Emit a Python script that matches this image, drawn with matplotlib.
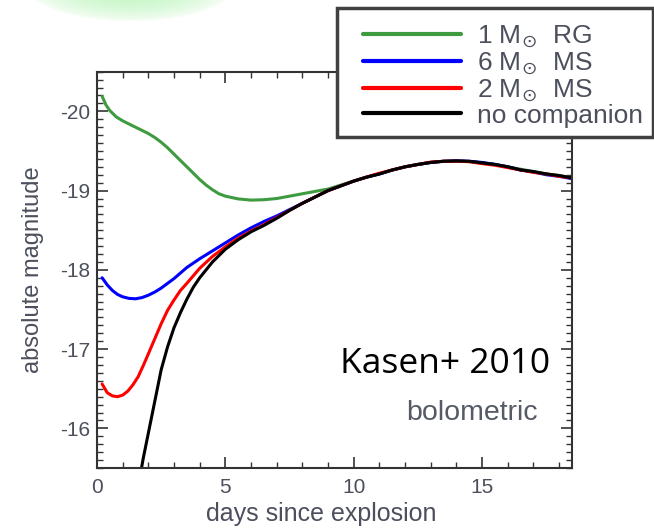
import numpy as np
import matplotlib
matplotlib.use("Agg")
import matplotlib.pyplot as plt
from matplotlib.patches import Rectangle
from matplotlib.ticker import MultipleLocator

plt.rcParams["font.family"] = ["Liberation Sans", "DejaVu Sans"]
plt.rcParams["mathtext.fontset"] = "dejavusans"
plt.rcParams["axes.unicode_minus"] = False

# bolometric light curves (days since explosion, absolute magnitude)
rg1_days = [0.2, 0.35, 0.5, 0.75, 1.0, 1.25, 1.5, 1.75, 2.0, 2.25, 2.5, 2.75,
            3.0, 3.25, 3.5, 3.75, 4.0, 4.25, 4.5, 4.75, 5.0, 5.5, 6.0, 6.5,
            7.0, 7.5, 8.0, 8.5, 9.0, 9.5, 10.0, 10.5, 11.0, 11.5, 12.0, 12.5,
            13.0, 13.5, 14.0, 14.5, 15.0, 15.5, 16.0, 16.5, 17.0, 17.5, 18.0, 18.5]
rg1_mag = [-20.19, -20.08, -20.01, -19.93, -19.88, -19.84, -19.80, -19.76, -19.72,
           -19.67, -19.61, -19.54, -19.46, -19.38, -19.30, -19.22, -19.14, -19.07,
           -19.01, -18.96, -18.93, -18.895, -18.88, -18.885, -18.90, -18.93, -18.96,
           -18.99, -19.02, -19.07, -19.12, -19.17, -19.21, -19.26, -19.30, -19.33,
           -19.355, -19.37, -19.375, -19.365, -19.35, -19.33, -19.30, -19.27,
           -19.24, -19.21, -19.19, -19.16]

ms6_days = [0.2, 0.4, 0.6, 0.8, 1.0, 1.25, 1.5, 1.75, 2.0, 2.25, 2.5, 2.75, 3.0,
            3.25, 3.5, 4.0, 4.5, 5.0, 5.5, 6.0, 6.5, 7.0, 7.5, 8.0, 8.5, 9.0,
            9.5, 10.0, 10.5, 11.0, 11.5, 12.0, 12.5, 13.0, 13.5, 14.0, 14.5,
            15.0, 15.5, 16.0, 16.5, 17.0, 17.5, 18.0, 18.5]
ms6_mag = [-17.90, -17.81, -17.74, -17.69, -17.66, -17.64, -17.635, -17.65, -17.68,
           -17.72, -17.77, -17.83, -17.89, -17.96, -18.03, -18.14, -18.24, -18.34,
           -18.44, -18.53, -18.61, -18.68, -18.76, -18.84, -18.92, -19.00, -19.06,
           -19.12, -19.17, -19.21, -19.26, -19.30, -19.33, -19.355, -19.37, -19.375,
           -19.37, -19.355, -19.33, -19.30, -19.26, -19.235, -19.20, -19.18, -19.15]

ms2_days = [0.2, 0.4, 0.6, 0.8, 1.0, 1.2, 1.4, 1.6, 1.8, 2.0, 2.25, 2.5, 2.75,
            3.0, 3.25, 3.5, 4.0, 4.5, 5.0, 5.5, 6.0, 6.5, 7.0, 7.5, 8.0, 8.5,
            9.0, 9.5, 10.0, 10.5, 11.0, 11.5, 12.0, 12.5, 13.0, 13.5, 14.0,
            14.5, 15.0, 15.5, 16.0, 16.5, 17.0, 17.5, 18.0, 18.5]
ms2_mag = [-16.56, -16.45, -16.41, -16.40, -16.42, -16.47, -16.55, -16.65, -16.79,
           -16.94, -17.13, -17.32, -17.49, -17.62, -17.74, -17.83, -18.02, -18.17,
           -18.29, -18.40, -18.49, -18.57, -18.66, -18.75, -18.84, -18.92, -19.00,
           -19.06, -19.12, -19.17, -19.22, -19.26, -19.30, -19.33, -19.36, -19.37,
           -19.37, -19.365, -19.34, -19.32, -19.29, -19.26, -19.23, -19.21, -19.18,
           -19.16]

nocomp_days = [1.68, 1.8, 2.0, 2.25, 2.5, 2.75, 3.0, 3.25, 3.5, 3.75, 4.0, 4.5,
               5.0, 5.5, 6.0, 6.5, 7.0, 7.5, 8.0, 8.5, 9.0, 9.5, 10.0, 10.5,
               11.0, 11.5, 12.0, 12.5, 13.0, 13.5, 14.0, 14.5, 15.0, 15.5, 16.0,
               16.5, 17.0, 17.5, 18.0, 18.5]
nocomp_mag = [-15.40, -15.62, -15.94, -16.34, -16.74, -17.03, -17.27, -17.46, -17.63,
              -17.78, -17.90, -18.10, -18.26, -18.38, -18.48, -18.56, -18.65, -18.75,
              -18.84, -18.92, -19.00, -19.06, -19.12, -19.17, -19.21, -19.26, -19.30,
              -19.33, -19.355, -19.37, -19.375, -19.37, -19.35, -19.33, -19.30,
              -19.26, -19.24, -19.21, -19.19, -19.16]

labels = [r"1 M$_{\odot}$  RG", r"6 M$_{\odot}$  MS", r"2 M$_{\odot}$  MS", "no companion"]
colors = ["#3f9b3f", "#0000ff", "#ff0000", "#000000"]
series = [(rg1_days, rg1_mag), (ms6_days, ms6_mag), (ms2_days, ms2_mag),
          (nocomp_days, nocomp_mag)]

text_col = "#4c4f5c"
frame_col = "#333333"

fig = plt.figure(figsize=(6.54, 5.28), dpi=100)
ax = fig.add_axes([0.1483, 0.1136, 0.7263, 0.7506])

handles = []
for (d, m), c, lab in zip(series, colors, labels):
    h, = ax.plot(d, m, color=c, lw=2.2, label=lab, solid_capstyle="round")
    handles.append(h)

ax.set_xlim(0, 18.5)
ax.set_ylim(-15.5, -20.5)
ax.xaxis.set_major_locator(MultipleLocator(5))
ax.xaxis.set_minor_locator(MultipleLocator(1))
ax.yaxis.set_major_locator(MultipleLocator(1))
ax.yaxis.set_minor_locator(MultipleLocator(0.1))
ax.tick_params(which="both", direction="in", top=True, right=True,
               color=frame_col, labelcolor=text_col, labelsize=15)
ax.tick_params(which="major", length=8, width=1.2)
ax.tick_params(which="minor", length=4, width=1.0)
ax.tick_params(axis="x", pad=7)
ax.tick_params(axis="y", pad=5)
for sp in ax.spines.values():
    sp.set_color(frame_col)
    sp.set_linewidth(1.5)

ax.set_xlabel("days since explosion", fontsize=18, color=text_col)
ax.set_ylabel("absolute magnitude", fontsize=17, color=text_col)
ax.xaxis.set_label_coords(0.4716, -0.086)
ax.yaxis.set_label_coords(-0.111, 0.5)

ax.text(0.954, 0.240, "Kasen+ 2010", transform=ax.transAxes, ha="right",
        va="baseline", fontsize=25.5, family=["Open Sans", "DejaVu Sans"],
        color="black")
ax.text(0.928, 0.121, "bolometric", transform=ax.transAxes, ha="right",
        va="baseline", fontsize=20.5, color="#555a66")

# legend panel drawn over the top right of the plot
box = Rectangle((337 / 654, 1 - 137 / 528), 316 / 654, 129 / 528,
                transform=fig.transFigure, facecolor="white",
                edgecolor="#404040", lw=2.5, zorder=5)
fig.patches.append(box)
leg = fig.legend(handles=handles, loc="upper left",
                 bbox_to_anchor=(350 / 654, 1 - 10 / 528), frameon=False,
                 fontsize=19, handlelength=3.7, handletextpad=0.6,
                 labelspacing=0.0, borderpad=0.0)
leg.set_zorder(6)
for t in leg.get_texts():
    t.set_color(text_col)
for l in leg.get_lines():
    l.set_linewidth(3)

# soft green glow along the top edge
h, w = 528, 654
yy, xx = np.mgrid[0:h, 0:w]
r = np.sqrt(((xx - 130) / 105.0) ** 2 + ((yy + 15) / 36.0) ** 2)
alpha = np.clip(1 - r, 0, 1) ** 0.6
glow = np.zeros((h, w, 4))
glow[..., 0] = 0.72
glow[..., 1] = 0.96
glow[..., 2] = 0.72
glow[..., 3] = alpha
fig.figimage(glow[::-1], 0, 0, zorder=-1, origin="lower")

fig.savefig("out.png", dpi=100)
